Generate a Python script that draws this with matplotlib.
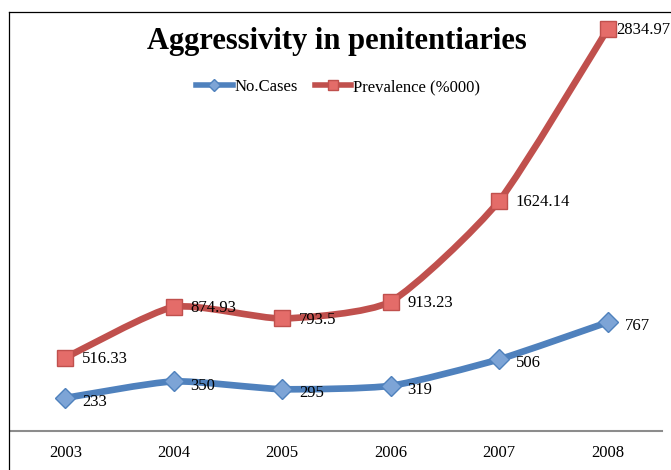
import numpy as np
import matplotlib.pyplot as plt
from matplotlib.path import Path
from matplotlib.patches import PathPatch
from matplotlib.lines import Line2D

plt.rcParams['font.family'] = ['Liberation Serif', 'DejaVu Serif']

years = ['2003', '2004', '2005', '2006', '2007', '2008']
cases = [233, 350, 295, 319, 506, 767]
prevalence = [516.33, 874.93, 793.5, 913.23, 1624.14, 2834.97]
case_labels = ['233', '350', '295', '319', '506', '767']
prev_labels = ['516.33', '874.93', '793.5', '913.23', '1624.14', '2834.97']

blue = '#4F81BD'
red = '#C0504D'


def smooth_path(x, y, k=10.0):
    # bezier through the points, a bit like Excel "smoothed line"
    pts = np.column_stack([x, y]).astype(float)
    verts = [pts[0]]
    codes = [Path.MOVETO]
    n = len(pts)
    for i in range(n - 1):
        p0 = pts[i - 1] if i > 0 else pts[i]
        p1 = pts[i]
        p2 = pts[i + 1]
        p3 = pts[i + 2] if i + 2 < n else pts[i + 1]
        c1 = p1 + (p2 - p0) / k
        c2 = p2 - (p3 - p1) / k
        verts += [c1, c2, p2]
        codes += [Path.CURVE4] * 3
    return Path(verts, codes)


fig = plt.figure(figsize=(6.71, 4.70), dpi=100)
ax = fig.add_axes([11 / 671, 39 / 470, 651 / 671, 419 / 470])
xs = np.arange(len(years))

for vals, col in [(cases, blue), (prevalence, red)]:
    ax.add_patch(PathPatch(smooth_path(xs, vals), facecolor='none', edgecolor=col,
                           lw=4.8, capstyle='round', joinstyle='round', zorder=2))

ax.plot(xs, cases, ls='none', marker='D', ms=10, mfc='#7DA4D6', mec=blue, mew=1, zorder=3)
ax.plot(xs, prevalence, ls='none', marker='s', ms=11, mfc='#E46C69', mec=red, mew=1, zorder=3)

for i in range(len(years)):
    ax.annotate(case_labels[i], (xs[i], cases[i]), xytext=(12, -3), textcoords='offset points',
                ha='left', va='center', fontsize=12, zorder=5)
    dx = 12 if i < len(years) - 1 else 6
    ax.annotate(prev_labels[i], (xs[i], prevalence[i]), xytext=(dx, -1), textcoords='offset points',
                ha='left', va='center', fontsize=12, zorder=5, annotation_clip=False)

ax.set_xlim(-0.5, 5.5)
ax.set_ylim(0, 2955)
ax.set_xticks(xs)
ax.set_xticklabels(years, fontsize=12)
ax.tick_params(axis='x', length=0, pad=10)
ax.set_yticks([])
for s in ['top', 'right', 'left']:
    ax.spines[s].set_visible(False)
ax.spines['bottom'].set_color('#8C8C8C')
ax.spines['bottom'].set_linewidth(1.5)

# chart border (left and top)
fig.add_artist(Line2D([9 / 671, 9 / 671], [0, 1 - 12 / 470], color='black', lw=0.9))
fig.add_artist(Line2D([9 / 671, 1], [1 - 12 / 470, 1 - 12 / 470], color='black', lw=0.9))

fig.text(337 / 671, 1 - 41 / 470, 'Aggressivity in penitentiaries', ha='center', va='center',
         fontsize=22, fontweight='bold')

handles = [Line2D([], [], color=blue, lw=4, marker='D', ms=6, mfc='#7DA4D6', mec=blue),
           Line2D([], [], color=red, lw=4, marker='s', ms=7, mfc='#E46C69', mec=red)]
fig.legend(handles, ['No.Cases', 'Prevalence (%000)'], loc='center', ncol=2,
           bbox_to_anchor=(338 / 671, 1 - 87 / 470), frameon=False, fontsize=12,
           handlelength=2.2, handletextpad=0.1, columnspacing=1.0)

fig.savefig('out.png', dpi=100)
